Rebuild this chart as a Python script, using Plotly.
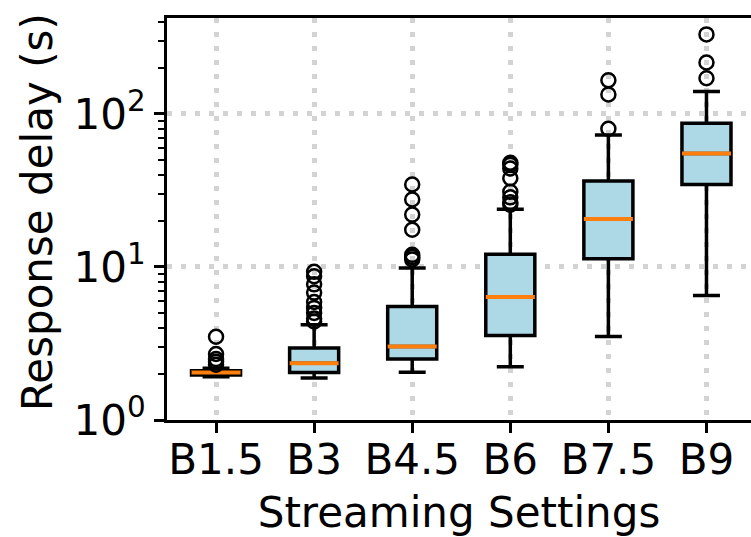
import plotly.graph_objects as go

# ---- data ----
categories = ["B1.5", "B3", "B4.5", "B6", "B7.5", "B9"]
positions = [1, 2, 3, 4, 5, 6]
q1 = [1.97, 2.04, 2.50, 3.56, 11.3, 34.6]
median = [2.04, 2.35, 3.02, 6.36, 20.6, 55.2]
q3 = [2.10, 2.95, 5.52, 12.1, 36.4, 86.8]
lower_whisker = [1.92, 1.88, 2.05, 2.23, 3.51, 6.51]
upper_whisker = [2.18, 4.19, 9.85, 23.8, 72.8, 140]
outliers = [
    [2.3, 2.4, 2.5, 2.7, 3.5],
    [4.4, 4.6, 5.0, 5.4, 5.9, 6.8, 7.7, 8.7, 9.3],
    [11.2, 11.6, 12.0, 17.5, 22.0, 27.6, 34.6],
    [25.5, 26.5, 28.5, 31.0, 38.0, 44.0, 46.5, 48.0],
    [80, 134, 166],
    [171, 217, 331],
]
y_tick_vals = [1, 10, 100]
y_tick_text = ["10<sup>0</sup>", "10<sup>1</sup>", "10<sup>2</sup>"]
y_minor_vals = [2, 3, 4, 5, 6, 7, 8, 9, 20, 30, 40, 50, 60, 70, 80, 90, 200, 300, 400]
x_title = "Streaming Settings"
y_title = "Response delay (s)"

BOX_W = 0.5
FONT = "DejaVu Sans"
FS = 42

fig = go.Figure()

fig.add_trace(go.Box(
    x=positions, q1=q1, median=median, q3=q3,
    lowerfence=lower_whisker, upperfence=upper_whisker,
    width=BOX_W, whiskerwidth=0.55,
    fillcolor="#ADD8E6", line=dict(color="black", width=3.5),
    boxpoints=False, showlegend=False, hoverinfo="skip",
))

# orange median lines
mx, my = [], []
for p, m in zip(positions, median):
    mx += [p - BOX_W / 2, p + BOX_W / 2, None]
    my += [m, m, None]
fig.add_trace(go.Scatter(x=mx, y=my, mode="lines",
                         line=dict(color="#FF7F0E", width=4),
                         showlegend=False, hoverinfo="skip"))

# outliers
ox, oy = [], []
for p, vals in zip(positions, outliers):
    for v in vals:
        ox.append(p)
        oy.append(v)
fig.add_trace(go.Scatter(x=ox, y=oy, mode="markers",
                         marker=dict(symbol="circle-open", size=14, color="black",
                                     line=dict(width=2.5, color="black")),
                         showlegend=False, hoverinfo="skip"))

grid = dict(showgrid=True, gridcolor="#d3d3d3", gridwidth=4.5, griddash="5px,9px")

fig.update_layout(
    width=751, height=537,
    margin=dict(l=167, r=0, t=18, b=117),
    plot_bgcolor="white", paper_bgcolor="white",
    font=dict(family=FONT, size=FS, color="black"),
    showlegend=False,
    xaxis=dict(
        range=[0.5, 6.454], tickmode="array", tickvals=positions, ticktext=categories,
        showline=True, linecolor="black", linewidth=3, mirror=True,
        ticks="outside", ticklen=10, tickwidth=2.5, tickcolor="black",
        ticklabelstandoff=-9,
        zeroline=False,
        title=dict(text=x_title, font=dict(size=FS), standoff=16),
        **grid,
    ),
    yaxis=dict(
        type="log", range=[0, 2.627],
        tickmode="array", tickvals=y_tick_vals, ticktext=y_tick_text,
        showline=True, linecolor="black", linewidth=3, mirror=False,
        ticks="outside", ticklen=10, tickwidth=2.5, tickcolor="black",
        minor=dict(tickmode="array", tickvals=y_minor_vals, ticks="outside",
                   ticklen=6, tickwidth=2, tickcolor="black", showgrid=False),
        zeroline=False,
        **grid,
    ),
    annotations=[dict(
        text=y_title, textangle=-90, showarrow=False,
        xref="paper", yref="paper", x=0, y=0.5,
        xanchor="center", yanchor="middle", xshift=-130, yshift=7,
        font=dict(size=FS, family=FONT, color="black"),
    )],
)

fig.write_html("out.html", post_script="document.body.style.margin='0';",
               config={"displayModeBar": False})
